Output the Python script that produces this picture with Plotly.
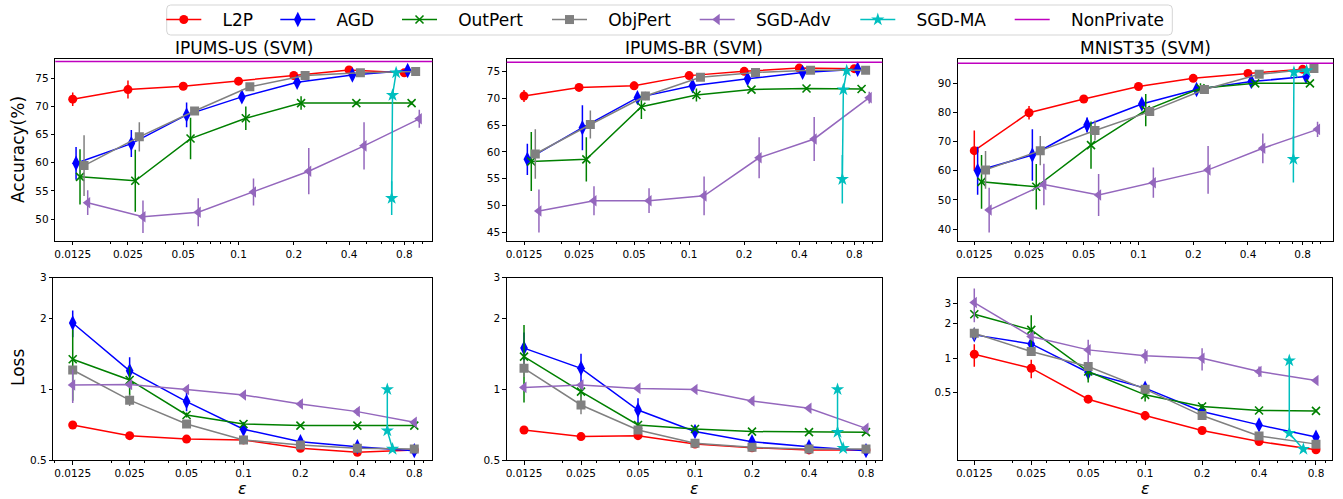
import plotly.graph_objects as go
import math

EPS = [0.0125, 0.025, 0.05, 0.1, 0.2, 0.4, 0.8]
EPS_LABELS = ["0.0125", "0.025", "0.05", "0.1", "0.2", "0.4", "0.8"]
DATASETS = ["IPUMS-US (SVM)", "IPUMS-BR (SVM)", "MNIST35 (SVM)"]
METHODS = ["L2P", "AGD", "OutPert", "ObjPert", "SGD-Adv"]
LEGEND_NAMES = ["L2P", "AGD", "OutPert", "ObjPert", "SGD-Adv", "SGD-MA", "NonPrivate"]

# ---------------- Accuracy (%) ----------------
us_acc = {
    "L2P": [71.3, 73.0, 73.6, 74.5, 75.5, 76.5, 76.0],
    "AGD": [59.9, 63.4, 68.5, 71.7, 74.3, 75.6, 76.4],
    "OutPert": [57.5, 56.8, 64.3, 67.9, 70.6, 70.6, 70.6],
    "ObjPert": [59.5, 64.6, 69.2, 73.5, 75.5, 76.0, 76.2],
    "SGD-Adv": [52.9, 50.4, 51.2, 54.8, 58.5, 63.0, 67.8],
}
us_acc_err = {
    "L2P": [1.2, 1.6, 0.4, 0.4, 0.4, 0.4, 0.4],
    "AGD": [2.9, 2.4, 2.2, 0.8, 0.6, 0.5, 0.5],
    "OutPert": [4.9, 5.5, 3.7, 2.1, 1.2, 0.3, 0.3],
    "ObjPert": [5.4, 2.6, 0.7, 0.4, 0.3, 0.3, 0.3],
    "SGD-Adv": [2.2, 2.9, 2.5, 2.4, 4.1, 4.2, 1.6],
}
br_acc = {
    "L2P": [70.4, 72.0, 72.3, 74.2, 75.0, 75.6, 75.5],
    "AGD": [58.6, 64.5, 70.1, 72.3, 73.6, 74.8, 75.4],
    "OutPert": [58.2, 58.6, 68.4, 70.6, 71.6, 71.8, 71.7],
    "ObjPert": [59.6, 65.1, 70.4, 73.9, 74.8, 75.2, 75.2],
    "SGD-Adv": [49.0, 50.9, 50.9, 51.8, 58.9, 62.4, 70.1],
}
br_acc_err = {
    "L2P": [1.1, 0.7, 0.8, 0.4, 0.3, 0.3, 0.3],
    "AGD": [2.9, 4.2, 0.8, 0.6, 0.5, 0.4, 0.5],
    "OutPert": [5.5, 4.1, 2.3, 1.2, 0.3, 0.3, 0.3],
    "ObjPert": [4.6, 2.6, 0.8, 0.4, 0.3, 0.3, 0.3],
    "SGD-Adv": [4.0, 2.7, 2.3, 3.6, 3.8, 4.1, 1.1],
}
mn_acc = {
    "L2P": [66.9, 79.9, 84.6, 88.9, 91.7, 93.4, 94.8],
    "AGD": [60.0, 65.4, 75.7, 82.9, 87.9, 90.6, 92.3],
    "OutPert": [56.2, 54.5, 68.8, 80.8, 88.3, 90.0, 90.0],
    "ObjPert": [60.3, 66.9, 73.8, 80.3, 87.9, 93.1, 95.1],
    "SGD-Adv": [46.5, 55.3, 51.7, 55.9, 60.3, 67.7, 74.2],
}
mn_acc_err = {
    "L2P": [6.9, 2.3, 0.5, 0.5, 0.4, 0.4, 0.4],
    "AGD": [8.2, 8.8, 2.6, 1.5, 0.7, 0.5, 0.7],
    "OutPert": [9.2, 7.8, 8.1, 5.5, 1.7, 0.3, 0.3],
    "ObjPert": [6.5, 5.0, 3.4, 1.1, 0.5, 0.4, 0.4],
    "SGD-Adv": [7.7, 7.1, 7.2, 5.2, 8.2, 5.1, 2.6],
}
# SGD-MA (three runs near eps 0.6-0.8)
us_ma_acc = [53.7, 72.0, 76.0]
us_ma_acc_err = [3.0, 0.5, 0.3]
us_ma_acc_eps = [0.683, 0.690, 0.722]
br_ma_acc = [54.9, 71.6, 75.1]
br_ma_acc_err = [4.5, 0.5, 0.3]
br_ma_acc_eps = [0.688, 0.697, 0.727]
mn_ma_acc = [64.0, 93.8, 94.3]
mn_ma_acc_err = [8.0, 0.5, 0.3]
mn_ma_acc_eps = [0.711, 0.716, 0.841]
nonprivate_acc = [78.0, 76.7, 96.9]

# ---------------- Loss ----------------
us_loss = {
    "L2P": [0.705, 0.635, 0.614, 0.609, 0.561, 0.539, 0.552],
    "AGD": [1.92, 1.20, 0.887, 0.676, 0.598, 0.570, 0.548],
    "OutPert": [1.345, 1.097, 0.778, 0.712, 0.701, 0.701, 0.701],
    "ObjPert": [1.21, 0.90, 0.712, 0.609, 0.579, 0.561, 0.557],
    "SGD-Adv": [1.045, 1.05, 1.0, 0.947, 0.867, 0.804, 0.724],
}
us_loss_err = {
    "L2P": [0.01, 0.01, 0.01, 0.01, 0.01, 0.01, 0.01],
    "AGD": [0.25, 0.17, 0.08, 0.03, 0.015, 0.01, 0.015],
    "OutPert": [0.45, 0.15, 0.02, 0.01, 0.01, 0.01, 0.01],
    "ObjPert": [0.03, 0.05, 0.01, 0.01, 0.01, 0.01, 0.01],
    "SGD-Adv": [0.17, 0.03, 0.03, 0.02, 0.03, 0.03, 0.02],
}
br_loss = {
    "L2P": [0.671, 0.629, 0.635, 0.585, 0.564, 0.552, 0.552],
    "AGD": [1.50, 1.23, 0.817, 0.661, 0.598, 0.570, 0.548],
    "OutPert": [1.38, 0.979, 0.705, 0.678, 0.661, 0.657, 0.657],
    "ObjPert": [1.23, 0.858, 0.671, 0.589, 0.566, 0.557, 0.557],
    "SGD-Adv": [1.02, 1.045, 1.01, 1.0, 0.893, 0.831, 0.682],
}
br_loss_err = {
    "L2P": [0.01, 0.01, 0.01, 0.01, 0.01, 0.01, 0.01],
    "AGD": [0.25, 0.19, 0.1, 0.02, 0.015, 0.01, 0.015],
    "OutPert": [0.5, 0.1, 0.02, 0.01, 0.01, 0.01, 0.01],
    "ObjPert": [0.1, 0.075, 0.01, 0.01, 0.01, 0.01, 0.01],
    "SGD-Adv": [0.03, 0.03, 0.02, 0.02, 0.03, 0.02, 0.02],
}
mn_loss = {
    "L2P": [1.083, 0.818, 0.439, 0.316, 0.234, 0.1875, 0.159],
    "AGD": [1.598, 1.333, 0.75, 0.548, 0.343, 0.262, 0.205],
    "OutPert": [2.42, 1.767, 0.765, 0.479, 0.379, 0.35, 0.347],
    "ObjPert": [1.652, 1.143, 0.846, 0.537, 0.316, 0.21, 0.178],
    "SGD-Adv": [3.06, 1.545, 1.182, 1.048, 1.0, 0.765, 0.639],
}
mn_loss_err = {
    "L2P": [0.24, 0.15, 0.01, 0.03, 0.01, 0.01, 0.01],
    "AGD": [0.15, 0.1, 0.08, 0.02, 0.01, 0.01, 0.01],
    "OutPert": [0.1, 0.6, 0.15, 0.06, 0.02, 0.01, 0.01],
    "ObjPert": [0.2, 0.05, 0.02, 0.01, 0.01, 0.01, 0.01],
    "SGD-Adv": [1.0, 0.08, 0.27, 0.15, 0.22, 0.08, 0.03],
}
us_ma_loss = [1.0, 0.667, 0.557]
us_ma_loss_eps = [0.576, 0.576, 0.614]
br_ma_loss = [1.0, 0.657, 0.561]
br_ma_loss_eps = [0.566, 0.566, 0.606]
mn_ma_loss = [0.954, 0.222, 0.161]
mn_ma_loss_eps = [0.578, 0.578, 0.686]

# ---------------- styles ----------------
STYLE = {
    "L2P": dict(color="#ff0000", symbol="circle", size=9),
    "AGD": dict(color="#0000ff", symbol="diamond-tall", size=11),
    "OutPert": dict(color="#008000", symbol="x-thin", size=8),
    "ObjPert": dict(color="#808080", symbol="square", size=9),
    "SGD-Adv": dict(color="#9467bd", symbol="triangle-left", size=10),
    "SGD-MA": dict(color="#00bfbf", symbol="star", size=10),
}
NONPRIV_COLOR = "#bf00bf"
# horizontal jitter used in the accuracy panels
ACC_SHIFT = {"L2P": 1.0, "AGD": 1.043, "OutPert": 1.096, "ObjPert": 1.153, "SGD-Adv": 1.207}

W, H = 1343, 499
FONT = "DejaVu Sans"

def px_x(v):
    return v / W

def px_y(v):
    return 1 - v / H

# axis domains (pixels)
top_y = (59.3, 240.7)
bot_y = (277.5, 460.0)
cols_top = [(55.3, 432.3), (506.7, 882.3), (957.7, 1333.3)]
cols_bot = [(53.3, 432.3), (506.7, 882.3), (957.7, 1332.3)]
xr_top = [[-1.9979, 0.0556], [-1.9977, 0.0562], [-1.9944, 0.0714]]
xr_bot = [[-2.0057, -0.0017], [-1.9945, -0.0108], [-1.9908, -0.0107]]
yr_top = [[46.15, 78.38], [43.45, 77.24], [36.0, 98.24]]
ydt_top = [5, 5, 10]
yr_bot = [[math.log10(0.5), math.log10(3)], [math.log10(0.5), math.log10(3)], [-0.888, 0.704]]

# legend layout (pixels): left end of each legend handle
LEG_HANDLE_X = [173.3, 287.3, 409.0, 559.0, 706.7, 867.3, 1021.7]
LEG_Y = 20.0
LEG_BOX = (166.7, 5.0, 1172.3, 35.0)

acc_sets = [(us_acc, us_acc_err, us_ma_acc, us_ma_acc_err, us_ma_acc_eps),
            (br_acc, br_acc_err, br_ma_acc, br_ma_acc_err, br_ma_acc_eps),
            (mn_acc, mn_acc_err, mn_ma_acc, mn_ma_acc_err, mn_ma_acc_eps)]
loss_sets = [(us_loss, us_loss_err, us_ma_loss, us_ma_loss_eps),
             (br_loss, br_loss_err, br_ma_loss, br_ma_loss_eps),
             (mn_loss, mn_loss_err, mn_ma_loss, mn_ma_loss_eps)]

fig = go.Figure()

def legend_id(name):
    k = LEGEND_NAMES.index(name)
    return "legend" if k == 0 else f"legend{k+1}"

def marker_of(name):
    s = STYLE[name]
    if s["symbol"] == "x-thin":
        return dict(symbol="x-thin", size=s["size"], color=s["color"],
                    line=dict(width=1.6, color=s["color"]))
    return dict(symbol=s["symbol"], size=s["size"], color=s["color"], line=dict(width=0))

NB = "\u00a0\u00a0\u00a0"

def add_series(name, xs, ys, errs, xa, ya, show):
    c = STYLE[name]["color"]
    fig.add_trace(go.Scatter(
        x=xs, y=ys, mode="lines+markers", name=NB + name,
        line=dict(color=c, width=1.5), marker=marker_of(name),
        error_y=dict(type="data", array=errs, visible=errs is not None,
                     color=c, thickness=1.5, width=0),
        xaxis=xa, yaxis=ya, showlegend=show, legend=legend_id(name),
    ))

for i in range(3):
    xa = "x" if i == 0 else f"x{i+1}"
    ya = "y" if i == 0 else f"y{i+1}"
    acc, acc_err, ma, ma_err, ma_eps = acc_sets[i]
    for m in METHODS:
        xs = [e * ACC_SHIFT[m] for e in EPS]
        add_series(m, xs, acc[m], acc_err[m], xa, ya, i == 0)
    add_series("SGD-MA", ma_eps, ma, ma_err, xa, ya, i == 0)
    fig.add_shape(type="line", xref=f"{xa} domain", yref=ya, x0=0, x1=1,
                  y0=nonprivate_acc[i], y1=nonprivate_acc[i],
                  line=dict(color=NONPRIV_COLOR, width=1.5))

    xb = f"x{i+4}"
    yb = f"y{i+4}"
    loss, loss_err, mal, mal_eps = loss_sets[i]
    for m in METHODS:
        add_series(m, EPS, loss[m], loss_err[m], xb, yb, False)
    add_series("SGD-MA", mal_eps, mal, None, xb, yb, False)

# legend-only entry for the non-private baseline
fig.add_trace(go.Scatter(x=[None], y=[None], mode="lines", name=NB + "NonPrivate",
                         line=dict(color=NONPRIV_COLOR, width=1.5), xaxis="x", yaxis="y",
                         legend=legend_id("NonPrivate")))

axis_common = dict(showline=True, linecolor="black", linewidth=1, mirror=True,
                   ticks="outside", ticklen=3.5, tickwidth=1, tickcolor="black",
                   showgrid=False, zeroline=False,
                   tickfont=dict(family=FONT, size=10.5, color="black"))

layout = dict(width=W, height=H, margin=dict(l=0, r=0, t=0, b=0, autoexpand=False),
              plot_bgcolor="white", paper_bgcolor="white",
              font=dict(family=FONT, color="black"))

for k, nm in enumerate(LEGEND_NAMES):
    lid = "legend" if k == 0 else f"legend{k+1}"
    layout[lid] = dict(orientation="h", x=px_x(LEG_HANDLE_X[k] - 12), xanchor="left",
                       y=px_y(LEG_Y), yanchor="middle", borderwidth=0,
                       bgcolor="rgba(0,0,0,0)", itemwidth=35,
                       font=dict(family=FONT, size=17, color="black"))

for i in range(3):
    sfx = "" if i == 0 else str(i + 1)
    layout["xaxis" + sfx] = dict(axis_common, type="log", range=xr_top[i],
                                 domain=[px_x(cols_top[i][0]), px_x(cols_top[i][1])],
                                 anchor="y" + sfx, tickmode="array", tickvals=EPS, ticktext=EPS_LABELS,
                                 minor=dict(ticks="outside", ticklen=2, tickcolor="black", dtick="D1"))
    layout["yaxis" + sfx] = dict(axis_common, range=yr_top[i], dtick=ydt_top[i],
                                 domain=[px_y(top_y[1]), px_y(top_y[0])], anchor="x" + sfx)
    s2 = str(i + 4)
    layout["xaxis" + s2] = dict(axis_common, type="log", range=xr_bot[i],
                                domain=[px_x(cols_bot[i][0]), px_x(cols_bot[i][1])],
                                anchor="y" + s2, tickmode="array", tickvals=EPS, ticktext=EPS_LABELS,
                                minor=dict(ticks="outside", ticklen=2, tickcolor="black", dtick="D1"))
    layout["yaxis" + s2] = dict(axis_common, type="log", range=yr_bot[i],
                                tickmode="array", tickvals=[0.5, 1, 2, 3], ticktext=["0.5", "1", "2", "3"],
                                domain=[px_y(bot_y[1]), px_y(bot_y[0])], anchor="x" + s2)

fig.update_layout(**layout)

# rounded legend frame
x0, y0, x1, y1 = [LEG_BOX[0] / W, px_y(LEG_BOX[3]), LEG_BOX[2] / W, px_y(LEG_BOX[1])]
rx, ry = 4 / W, 4 / H
path = (f"M{x0+rx},{y0} L{x1-rx},{y0} Q{x1},{y0} {x1},{y0+ry} L{x1},{y1-ry} Q{x1},{y1} {x1-rx},{y1} "
        f"L{x0+rx},{y1} Q{x0},{y1} {x0},{y1-ry} L{x0},{y0+ry} Q{x0},{y0} {x0+rx},{y0} Z")
fig.add_shape(type="path", path=path, xref="paper", yref="paper",
              line=dict(color="#d5d5d5", width=1), fillcolor="rgba(0,0,0,0)", layer="below")

annotations = []
for i in range(3):
    cx = (cols_top[i][0] + cols_top[i][1]) / 2
    annotations.append(dict(text=DATASETS[i], x=px_x(cx), y=px_y(47.5), xref="paper", yref="paper",
                            xanchor="center", yanchor="middle", showarrow=False,
                            font=dict(family=FONT, size=17, color="black")))
    cxb = (cols_bot[i][0] + cols_bot[i][1]) / 2
    annotations.append(dict(text="<i>ε</i>", x=px_x(cxb), y=px_y(488), xref="paper", yref="paper",
                            xanchor="center", yanchor="middle", showarrow=False,
                            font=dict(family=FONT, size=16, color="black")))
annotations.append(dict(text="Accuracy(%)", x=px_x(18), y=px_y(150), xref="paper", yref="paper",
                        textangle=-90, xanchor="center", yanchor="middle", showarrow=False,
                        font=dict(family=FONT, size=17, color="black")))
annotations.append(dict(text="Loss", x=px_x(18), y=px_y(368), xref="paper", yref="paper",
                        textangle=-90, xanchor="center", yanchor="middle", showarrow=False,
                        font=dict(family=FONT, size=17, color="black")))
fig.update_layout(annotations=annotations)

fig.write_html("out.html", config={"displayModeBar": False},
               post_script="document.body.style.margin='0px';")
